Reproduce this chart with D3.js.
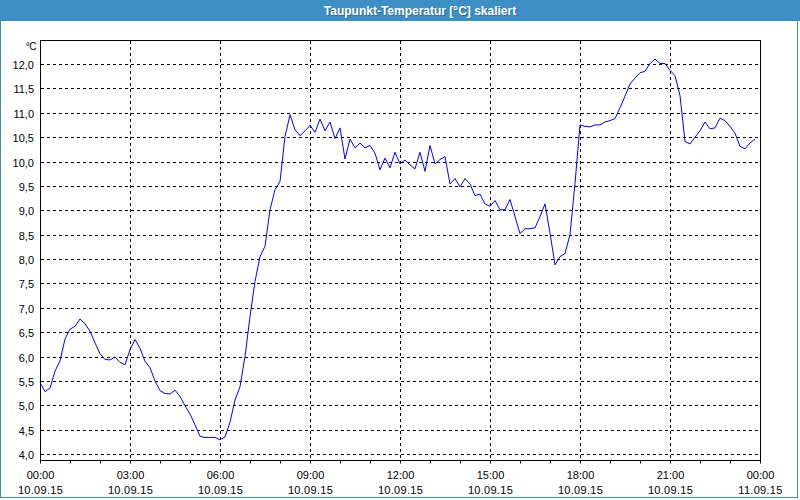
<!DOCTYPE html>
<html>
<head>
<meta charset="utf-8">
<script src="https://cdn.jsdelivr.net/npm/d3@7"></script>
<style>
  html, body { margin: 0; padding: 0; background: #ffffff; }
  svg { display: block; }
</style>
</head>
<body>
<svg id="chart" width="800" height="500"></svg>
<script>
// ---- data ----
const title = "Taupunkt-Temperatur [°C] skaliert";
const unitLabel = "°C";
const startTime = "2015-09-10T00:00:00";
const endTime = "2015-09-11T00:00:00";
const stepMinutes = 10;
// dew point values, one every 10 minutes from 10.09.15 00:00
const values = [
  5.47, 5.28, 5.35, 5.70, 5.91, 6.36, 6.56, 6.62, 6.77, 6.67,
  6.52, 6.28, 6.06, 5.94, 5.93, 5.99, 5.88, 5.83, 6.14, 6.35,
  6.17, 5.90, 5.77, 5.50, 5.30, 5.24, 5.23, 5.31, 5.18, 4.99,
  4.82, 4.60, 4.36, 4.34, 4.34, 4.34, 4.29, 4.35, 4.65, 5.11,
  5.38, 6.00, 6.82, 7.54, 8.05, 8.26, 9.01, 9.42, 9.59, 10.51,
  10.96, 10.65, 10.53, 10.63, 10.74, 10.60, 10.87, 10.63, 10.81, 10.47,
  10.69, 10.05, 10.46, 10.28, 10.38, 10.28, 10.33, 10.17, 9.83, 10.07,
  9.87, 10.19, 9.95, 10.03, 9.93, 9.85, 10.19, 9.80, 10.33, 9.95,
  10.04, 10.10, 9.54, 9.65, 9.48, 9.65, 9.54, 9.30, 9.33, 9.13,
  9.08, 9.20, 9.01, 9.01, 9.22, 8.87, 8.52, 8.62, 8.62, 8.64,
  8.87, 9.13, 8.53, 7.88, 8.05, 8.11, 8.50, 9.55, 10.75, 10.72,
  10.71, 10.75, 10.75, 10.81, 10.84, 10.88, 11.10, 11.34, 11.59, 11.71,
  11.82, 11.85, 12.01, 12.10, 12.01, 12.01, 11.87, 11.76, 11.35, 10.41,
  10.36, 10.50, 10.63, 10.81, 10.67, 10.69, 10.89, 10.84, 10.72, 10.58,
  10.31, 10.26, 10.38, 10.46
];
const yTicks = [4.0, 4.5, 5.0, 5.5, 6.0, 6.5, 7.0, 7.5, 8.0, 8.5, 9.0, 9.5, 10.0, 10.5, 11.0, 11.5, 12.0];
const xTickHours = [0, 3, 6, 9, 12, 15, 18, 21, 24];

(function () {
// ---- layout ----
const W = 800, H = 500;
const pl = 40, pr = 760, pt = 40, pb = 460;
const font = "'Liberation Sans', Arial, sans-serif";
const blue = "#3c8fc4";

const svg = d3.select("#chart");
svg.append("rect").attr("width", W).attr("height", H).attr("fill", "#ffffff");

// title bar
svg.append("rect").attr("x", 0).attr("y", 0).attr("width", W).attr("height", 21).attr("fill", blue);
svg.append("text").attr("x", 421).attr("y", 15.5).attr("text-anchor", "middle")
  .attr("font-family", font).attr("font-weight", "bold").attr("font-size", 12)
  .attr("fill", "#3a4f66").attr("opacity", 0.5).text(title);
svg.append("text").attr("x", 420).attr("y", 14.5).attr("text-anchor", "middle")
  .attr("font-family", font).attr("font-weight", "bold").attr("font-size", 12)
  .attr("fill", "#ffffff").text(title);

// window border
svg.append("line").attr("x1", 0.5).attr("x2", 0.5).attr("y1", 21).attr("y2", 498).attr("stroke", blue);
svg.append("line").attr("x1", 797.5).attr("x2", 797.5).attr("y1", 21).attr("y2", 498).attr("stroke", blue);
svg.append("line").attr("x1", 0).attr("x2", 798).attr("y1", 497.5).attr("y2", 497.5).attr("stroke", blue);

// scales
const t0 = d3.isoParse(startTime), t1 = d3.isoParse(endTime);
const x = d3.scaleTime().domain([t0, t1]).range([pl, pr]);
const y = d3.scaleLinear().domain([4, 12]).range([454, 64]);
const crisp = v => Math.round(v) + 0.5;

const data = values.map((v, i) => ({ t: d3.timeMinute.offset(t0, i * stepMinutes), v }));

const g = svg.append("g");

// horizontal grid
g.selectAll(".hgrid").data(yTicks).join("line")
  .attr("x1", pl + 1).attr("x2", pr)
  .attr("y1", d => crisp(y(d))).attr("y2", d => crisp(y(d)))
  .attr("stroke", "#000").attr("stroke-dasharray", "3,3");

// vertical grid
const xTickTimes = xTickHours.map(h => d3.timeHour.offset(t0, h));
g.selectAll(".vgrid").data(xTickTimes.slice(1, -1)).join("line")
  .attr("x1", d => crisp(x(d))).attr("x2", d => crisp(x(d)))
  .attr("y1", pt + 1).attr("y2", pb)
  .attr("stroke", "#000").attr("stroke-dasharray", "3,3");

// frame
g.append("rect").attr("x", pl + 0.5).attr("y", pt + 0.5)
  .attr("width", pr - pl).attr("height", pb - pt)
  .attr("fill", "none").attr("stroke", "#000");

// x axis minor ticks (hourly) via d3 axis
const xAxis = d3.axisBottom(x).ticks(d3.timeHour.every(1)).tickSize(3).tickFormat("");
const xa = svg.append("g").attr("transform", `translate(0,${pb + 0.5})`).call(xAxis);
xa.select(".domain").remove();
xa.selectAll(".tick line").attr("stroke", "#000");

// x tick labels
const fmtTime = d3.timeFormat("%H:%M");
const fmtDate = d3.timeFormat("%d.%m.%y");
const xl = svg.append("g");
xl.selectAll(".xt").data(xTickTimes).join("text")
  .attr("x", d => x(d) + 0.5).attr("y", 479).attr("text-anchor", "middle")
  .attr("font-family", font).attr("font-size", 11).attr("fill", "#000")
  .text(d => fmtTime(d));
xl.selectAll(".xd").data(xTickTimes).join("text")
  .attr("x", d => x(d) + 0.5).attr("y", 493.5).attr("text-anchor", "middle")
  .attr("font-family", font).attr("font-size", 11).attr("fill", "#000")
  .attr("letter-spacing", 0.3)
  .text(d => fmtDate(d));

// y tick labels
const fmtY = v => d3.format(".1f")(v).replace(".", ",");
svg.append("g").selectAll("text").data(yTicks).join("text")
  .attr("x", 34).attr("y", d => crisp(y(d)) + 4).attr("text-anchor", "end")
  .attr("font-family", font).attr("font-size", 11).attr("fill", "#000")
  .text(d => fmtY(d));

// unit label
svg.append("text").attr("x", 36).attr("y", 50).attr("text-anchor", "end")
  .attr("font-family", font).attr("font-size", 10).attr("fill", "#000")
  .attr("letter-spacing", -0.5).text(unitLabel);

// data line
const line = d3.line().x(d => x(d.t)).y(d => y(d.v));
svg.append("path").datum(data).attr("d", line)
  .attr("fill", "none").attr("stroke", "#0000ff").attr("stroke-width", 1);
})();
</script>
</body>
</html>
